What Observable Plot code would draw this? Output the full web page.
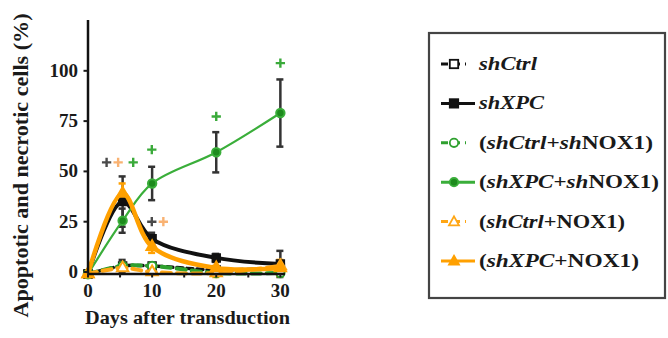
<!DOCTYPE html>
<html>
<head>
<meta charset="utf-8">
<script src="https://cdn.jsdelivr.net/npm/d3@7"></script>
<script src="https://cdn.jsdelivr.net/npm/@observablehq/plot@0.6"></script>
<style>
  html, body { margin: 0; padding: 0; background: #fff; }
  #wrap { position: relative; width: 668px; height: 338px; overflow: hidden; }
  #wrap svg { position: absolute; left: 0; top: 0; }
</style>
</head>
<body>
<div id="wrap"></div>
<script>
// ---- data ----
const days = [0, 5.4, 10, 20, 30];
const seriesNames = ["shCtrl", "shXPC", "(shCtrl+shNOX1)", "(shXPC+shNOX1)", "(shCtrl+NOX1)", "(shXPC+NOX1)"];
const shCtrl        = [0, 4, 4, 2, 3];
const shXPC         = [0, 36, 17.5, 8, 5];
const shCtrlShNOX1  = [0, 4, 4, 0.5, 0.5];
const shXPCShNOX1   = [0, 26.5, 45, 60.5, 80];
const shCtrlNOX1    = [0, 3, 1, 0.5, 4];
const shXPCNOX1     = [0, 40, 13.5, 3, 3];
const errShCtrl       = [0, 3, 1, 1, 1];
const errShXPC        = [0, 12.5, 3, 2, 6.5];
const errShCtrlShNOX1 = [0, 1, 1, 0.5, 0.5];
const errShXPCShNOX1  = [0, 6, 8.3, 10, 16.7];
const errShCtrlNOX1   = [0, 1, 1, 2, 2];
const errShXPCNOX1    = [0, 5, 3, 1, 4];
const xTicks = [0, 5, 10, 15, 20, 25, 30];
const yTicks = [0, 25, 50, 75, 100];
// significance markers (+)
const sigX = [2.9, 4.7, 7.05, 9.95, 20, 30, 9.95, 11.75];
const sigY = [55.5, 55.5, 55.5, 61.8, 78.3, 104.8, 26, 26];
const sigGroup = ["k", "o", "g", "g", "g", "g", "k", "o"];

// ---- styles ----
const sty = {
  "shCtrl":          {color: "#111", dash: "6,4", width: 3.5, symbol: "square", fill: "white", err: "#333"},
  "shXPC":           {color: "#111", dash: null,  width: 4,   symbol: "square", fill: "#111", err: "#333"},
  "(shCtrl+shNOX1)": {color: "#2ea02e", dash: "9,6", width: 4, symbol: "circle", fill: "white", err: "#2ea02e"},
  "(shXPC+shNOX1)":  {color: "#3aae3a", dash: null,  width: 2.2, symbol: "circle", fill: "#1d8a1d", err: "#333"},
  "(shCtrl+NOX1)":   {color: "#ffa614", dash: "9,6", width: 4, symbol: "triangle", fill: "white", err: "#ffa614"},
  "(shXPC+NOX1)":    {color: "#ffa000", dash: null,  width: 4.5, symbol: "triangle", fill: "#ffa000", err: "#ffa000"}
};
const sigColors = {k: "#4a4a4a", o: "#f9b272", g: "#3aaa3a"};

const valuesList = [shCtrl, shXPC, shCtrlShNOX1, shXPCShNOX1, shCtrlNOX1, shXPCNOX1];
const errList = [errShCtrl, errShXPC, errShCtrlShNOX1, errShXPCShNOX1, errShCtrlNOX1, errShXPCNOX1];
const rows = [];
seriesNames.forEach((s, i) => days.forEach((d, j) => rows.push({series: s, day: d, v: valuesList[i][j], e: errList[i][j]})));
const sig = sigX.map((x, i) => ({x, y: sigY[i], g: sigGroup[i]}));

const marks = [];
// error bars
seriesNames.forEach(s => {
  const data = rows.filter(r => r.series === s && r.e > 0);
  marks.push(Plot.ruleX(data, {x: "day", y1: r => r.v - r.e, y2: r => r.v + r.e, stroke: sty[s].err, strokeWidth: 2.5}));
  marks.push(Plot.ruleY(data, {y: r => r.v + r.e, x1: r => r.day - 0.55, x2: r => r.day + 0.55, stroke: sty[s].err, strokeWidth: 2.5}));
  marks.push(Plot.ruleY(data, {y: r => r.v - r.e, x1: r => r.day - 0.55, x2: r => r.day + 0.55, stroke: sty[s].err, strokeWidth: 2.5}));
});
// lines and markers
seriesNames.forEach(s => {
  const data = rows.filter(r => r.series === s);
  marks.push(Plot.line(data, {x: "day", y: "v", curve: "catmull-rom", stroke: sty[s].color, strokeWidth: sty[s].width, strokeDasharray: sty[s].dash}));
  marks.push(Plot.dot(data, {x: "day", y: "v", symbol: sty[s].symbol, r: 4.2, fill: sty[s].fill, stroke: sty[s].color, strokeWidth: 2}));
});
// significance markers drawn as plus symbols
marks.push(Plot.dot(sig, {x: "x", y: "y", symbol: "plus", r: 3.1, stroke: d => sigColors[d.g], strokeWidth: 2.4, fill: "none"}));
// axes
marks.push(Plot.ruleX([0], {y1: 0, y2: 126, stroke: "#111", strokeWidth: 2.5}));
marks.push(Plot.ruleY([0], {x1: 0, x2: 30.8, stroke: "#111", strokeWidth: 2.5}));
marks.push(Plot.axisX({ticks: xTicks, tickSize: 4, tickPadding: 5, strokeWidth: 2, tickFormat: d => d % 10 === 0 ? String(d) : "", label: null}));
marks.push(Plot.axisY({ticks: yTicks, tickSize: 4, tickPadding: 6, strokeWidth: 2, dy: -2, label: null}));

const chart = Plot.plot({
  width: 668,
  height: 338,
  marginLeft: 87.5,
  marginRight: 383,
  marginTop: 20,
  marginBottom: 64.5,
  x: {domain: [0, 30.8]},
  y: {domain: [0, 126]},
  style: {fontFamily: "'Liberation Serif', 'DejaVu Serif', serif", fontSize: "19px", fontWeight: "bold", color: "#1a1a1a", background: "white"},
  marks
});

const svg = d3.select(chart);
svg.append("text")
  .attr("transform", "translate(28,165.5) rotate(-90)")
  .attr("text-anchor", "middle")
  .attr("textLength", 304).attr("lengthAdjust", "spacingAndGlyphs")
  .style("font-family", "'Liberation Serif', serif").style("font-size", "20px").style("font-weight", "bold").attr("fill", "#1a1a1a")
  .text("Apoptotic and necrotic cells (%)");
svg.append("text")
  .attr("x", 187.5).attr("y", 324)
  .attr("text-anchor", "middle")
  .attr("textLength", 205).attr("lengthAdjust", "spacingAndGlyphs")
  .style("font-family", "'Liberation Serif', serif").style("font-size", "19px").style("font-weight", "bold").attr("fill", "#1a1a1a")
  .text("Days after transduction");

document.getElementById("wrap").appendChild(chart);

// ---- legend ----
const legendParts = {
  "shCtrl": [["shCtrl", true]],
  "shXPC": [["shXPC", true]],
  "(shCtrl+shNOX1)": [["(", false], ["shCtrl", true], ["+", false], ["sh", true], ["NOX1)", false]],
  "(shXPC+shNOX1)": [["(", false], ["shXPC", true], ["+", false], ["sh", true], ["NOX1)", false]],
  "(shCtrl+NOX1)": [["(", false], ["shCtrl", true], ["+NOX1)", false]],
  "(shXPC+NOX1)": [["(", false], ["shXPC", true], ["+NOX1)", false]]
};
const legendWidths = [58, 65, 174, 180, 146, 160];
const leg = d3.create("svg").attr("width", 668).attr("height", 338);
leg.append("rect").attr("x", 429).attr("y", 33).attr("width", 236).attr("height", 265)
  .attr("fill", "none").attr("stroke", "#444").attr("stroke-width", 2.2);
seriesNames.forEach((s, i) => {
  const cy = 64 + i * 39.4;
  const st = sty[s];
  const g = leg.append("g");
  g.append("line").attr("x1", 441).attr("x2", st.dash ? 466 : 475).attr("y1", cy).attr("y2", cy)
    .attr("stroke", st.color).attr("stroke-width", 3).attr("stroke-dasharray", st.dash ? "7,5" : null);
  const mx = 454, r = 4.2;
  let sym;
  if (st.symbol === "square") sym = g.append("rect").attr("x", mx - r).attr("y", cy - r).attr("width", 2 * r).attr("height", 2 * r);
  else if (st.symbol === "circle") sym = g.append("circle").attr("cx", mx).attr("cy", cy).attr("r", r);
  else sym = g.append("path").attr("d", `M${mx},${cy - r - 1}L${mx + r + 0.8},${cy + r - 0.5}L${mx - r - 0.8},${cy + r - 0.5}Z`);
  sym.attr("fill", st.fill).attr("stroke", st.color).attr("stroke-width", 1.8);
  const t = g.append("text").attr("x", 479).attr("y", cy + 6)
    .attr("textLength", legendWidths[i]).attr("lengthAdjust", "spacingAndGlyphs")
    .style("font-family", "'Liberation Serif', serif").style("font-size", "19px").style("font-weight", "bold").attr("fill", "#1a1a1a");
  legendParts[s].forEach(([txt, it]) => t.append("tspan").style("font-style", it ? "italic" : "normal").text(txt));
});
document.getElementById("wrap").appendChild(leg.node());
</script>
</body>
</html>
